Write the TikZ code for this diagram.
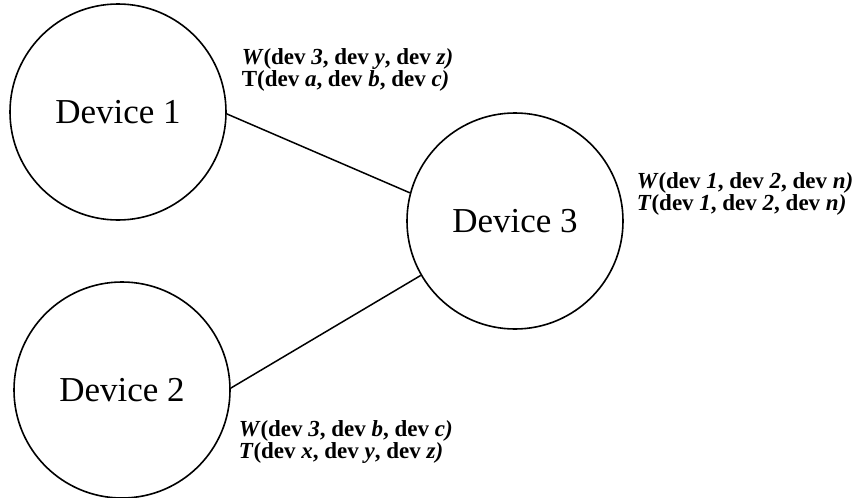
\documentclass[tikz,border=0pt]{standalone}
\usepackage{fontspec}
\setmainfont{Liberation Serif}
\usepackage{tikz}
\usetikzlibrary{positioning}
\usetikzlibrary{automata}

\newcommand{\itb}[1]{\textit{#1}}

\begin{document}
\begin{tikzpicture}[
            x = 1pt, y = -1pt, % picture measured in points
            auto,
            node distance = 278pt, % distance between devices
            line width = 1.5pt % line style
        ]

        \tikzstyle{every state}=[
            draw,
            line width = 1.6pt,
            fill = white,
            minimum size = 216pt,
            inner sep = 0pt,
            font = \fontsize{35}{40}\selectfont
        ]
        \tikzstyle{table}=[
            anchor = west,
            align = left,
            inner sep = 0pt,
            font = \bfseries\fontsize{23}{22}\selectfont
        ]

        \useasboundingbox (0,0) rectangle (855,498);

	% devices
        \node[state] (D1) at (118,112) {Device 1};
        \node[state] (D2) [below of = D1, xshift = 4pt] {Device 2};
        \node[state] (D3) at (515,221) {Device 3};

        % links
        \path (D1.-1) edge node {} (D3.165);
        \path (D2.1) edge node {} (D3.210);

        % tables
        \node[table] (T1) at (241,70) {\itb{W}(dev \itb{3}, dev \itb{y}, dev \itb{z)}\\T(dev \itb{a}, dev \itb{b}, dev \itb{c)}};
        \node[table] (T3) at (636,194) {\itb{W}(dev \itb{1}, dev \itb{2}, dev \itb{n)}\\\itb{T}(dev \itb{1}, dev \itb{2}, dev \itb{n)}};
        \node[table] (T2) at (238,442) {\itb{W}(dev \itb{3}, dev \itb{b}, dev \itb{c)}\\\itb{T}(dev \itb{x}, dev \itb{y}, dev \itb{z)}};

  \end{tikzpicture}
\end{document}
